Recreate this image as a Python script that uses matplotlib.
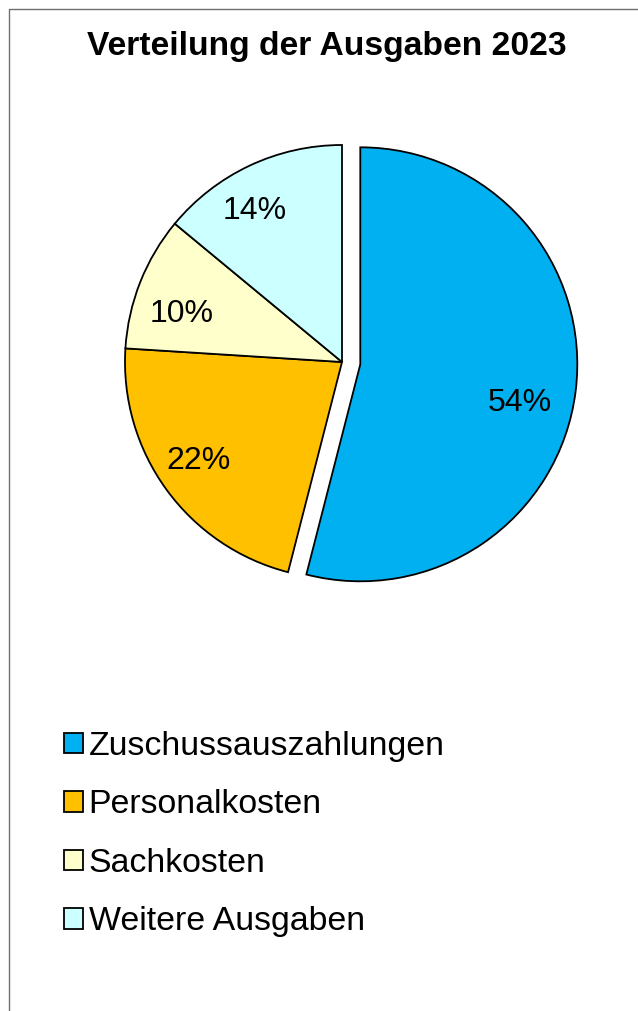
import matplotlib.pyplot as plt
from matplotlib.lines import Line2D

plt.rcParams['font.family'] = ['Liberation Sans', 'DejaVu Sans']

# ---------------- DATA ----------------
title = "Verteilung der Ausgaben 2023"
categories = ["Zuschussauszahlungen", "Personalkosten", "Sachkosten", "Weitere Ausgaben"]
shares = [54, 22, 10, 14]
colors = ["#00B0F0", "#FFC000", "#FFFFCC", "#CCFFFF"]
explode = [0.085, 0, 0, 0]

# ---------------- FIGURE ----------------
W, H = 638, 1011
fig = plt.figure(figsize=(W / 100, H / 100), dpi=100)

# pie centre (pixels from top-left) and radius
cx, cy, r = 342, 362, 217
half = 1.12 * r
ax = fig.add_axes([(cx - half) / W, (H - cy - half) / H, 2 * half / W, 2 * half / H])
wedges, texts, autotexts = ax.pie(
    shares, colors=colors, explode=explode, startangle=90, counterclock=False,
    autopct="%d%%", pctdistance=0.78,
    wedgeprops=dict(edgecolor="black", linewidth=1.3),
    textprops=dict(fontsize=23, color="black"),
)
# small nudges (pixels, right/down) so the labels sit like the original
nudges = [(-8, 17), (-7, 0), (-3, 14), (-15, 2)]
for t, (dx, dy) in zip(autotexts, nudges):
    x, y = t.get_position()
    t.set_position((x + dx / r, y - dy / r))

ax.set_xlim(-1.12, 1.12)
ax.set_ylim(-1.12, 1.12)
ax.set_aspect("equal")
ax.axis("off")

fig.text(327 / W, 1 - 47 / H, title, ha="center", va="center",
         fontsize=24.2, fontweight="bold")

leg = fig.legend(wedges, categories, loc="upper left",
                 bbox_to_anchor=(47 / W, 1 - 714 / H), frameon=False,
                 fontsize=24.4, handlelength=0.55, handleheight=0.55,
                 handletextpad=0.18, labelspacing=0.81, borderpad=0)

# outer frame (only left and top visible)
fig.add_artist(Line2D([8.5 / W, 8.5 / W, 1.0], [0.0, 1 - 8.5 / H, 1 - 8.5 / H],
                      transform=fig.transFigure, color="#6f6f6f", lw=1.0))

fig.savefig("out.png", dpi=100)
